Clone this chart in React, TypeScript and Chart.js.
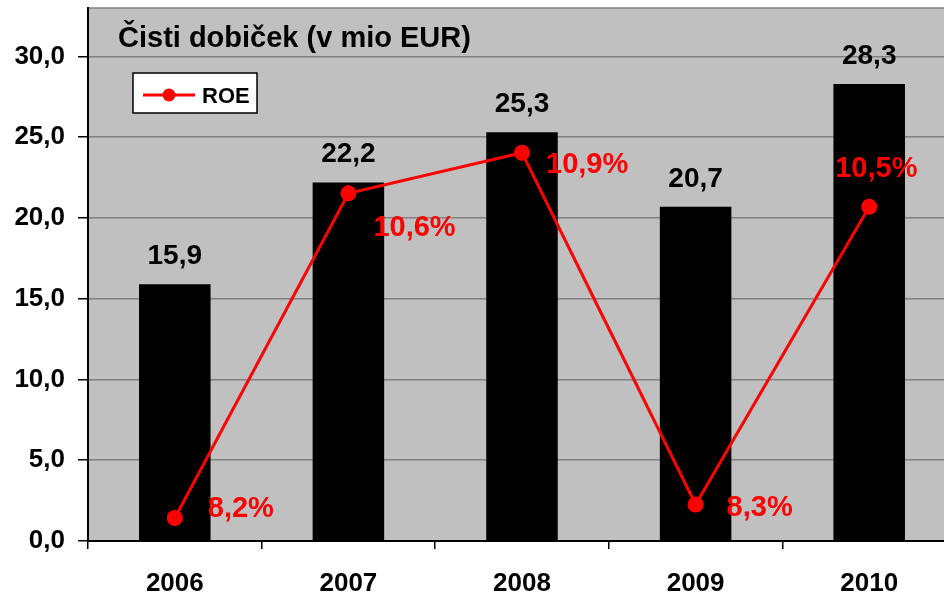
import React, { useEffect, useRef } from "react";
import { Chart, registerables } from "chart.js";

Chart.register(...registerables);

const categories = ["2006", "2007", "2008", "2009", "2010"];
const profitValues = [15.9, 22.2, 25.3, 20.7, 28.3];
const roeValues = [8.2, 10.6, 10.9, 8.3, 10.5];
const yTickValues = [0, 5, 10, 15, 20, 25, 30];
const titleText = "Čisti dobiček (v mio EUR)";
const legendLabel = "ROE";
// label placement offsets relative to each ROE point (left edge, baseline)
const roeLabelOffsets = [
  [33, -1],
  [25, 43],
  [24, 20],
  [31, 12],
  [-34, -30],
];

const FONT = "'Liberation Sans', Arial, sans-serif";
const fmt = (v: number) => v.toFixed(1).replace(".", ",");

const decorPlugin = {
  id: "decor",
  beforeDraw(chart: any) {
    const { ctx, chartArea } = chart;
    ctx.save();
    ctx.fillStyle = "#C0C0C0";
    ctx.fillRect(chartArea.left, chartArea.top, chartArea.right - chartArea.left, chartArea.bottom - chartArea.top);
    ctx.strokeStyle = "#808080";
    ctx.lineWidth = 1.5;
    ctx.beginPath();
    ctx.moveTo(chartArea.left, chartArea.top);
    ctx.lineTo(chartArea.right, chartArea.top);
    ctx.stroke();
    ctx.restore();
  },
  afterDatasetsDraw(chart: any) {
    const { ctx } = chart;
    ctx.save();
    // bar value labels
    const barMeta = chart.getDatasetMeta(1);
    ctx.font = `bold 28px ${FONT}`;
    ctx.fillStyle = "#000";
    ctx.textAlign = "center";
    ctx.textBaseline = "alphabetic";
    barMeta.data.forEach((el: any, i: number) => {
      ctx.fillText(fmt(profitValues[i]), el.x, el.y - 20);
    });
    // ROE labels
    const lineMeta = chart.getDatasetMeta(0);
    ctx.fillStyle = "#FF0000";
    ctx.textAlign = "left";
    ctx.font = `bold 29px ${FONT}`;
    lineMeta.data.forEach((el: any, i: number) => {
      const [dx, dy] = roeLabelOffsets[i];
      ctx.fillText(fmt(roeValues[i]) + "%", el.x + dx, el.y + dy);
    });
    // title
    ctx.fillStyle = "#000";
    ctx.font = `bold 29px ${FONT}`;
    ctx.fillText(titleText, chart.chartArea.left + 30, 47);
    // legend
    const lx = 133, ly = 73, lw = 124, lh = 40;
    ctx.fillStyle = "#FFFFFF";
    ctx.fillRect(lx, ly, lw, lh);
    ctx.strokeStyle = "#000";
    ctx.lineWidth = 1.5;
    ctx.strokeRect(lx, ly, lw, lh);
    ctx.strokeStyle = "#FF0000";
    ctx.lineWidth = 3;
    ctx.beginPath();
    ctx.moveTo(143, 95);
    ctx.lineTo(195, 95);
    ctx.stroke();
    ctx.fillStyle = "#FF0000";
    ctx.beginPath();
    ctx.arc(169, 95, 6.5, 0, Math.PI * 2);
    ctx.fill();
    ctx.fillStyle = "#000";
    ctx.font = `bold 22px ${FONT}`;
    ctx.fillText(legendLabel, 202, 103);
    ctx.restore();
  },
};

export default function App() {
  const ref = useRef<HTMLCanvasElement | null>(null);
  useEffect(() => {
    if (!ref.current) return;
    const chart = new Chart(ref.current, {
      type: "bar",
      data: {
        labels: categories,
        datasets: [
          {
            type: "line",
            label: legendLabel,
            data: roeValues,
            yAxisID: "y2",
            borderColor: "#FF0000",
            backgroundColor: "#FF0000",
            borderWidth: 3,
            pointRadius: 8,
            pointBackgroundColor: "#FF0000",
            pointBorderWidth: 0,
            tension: 0,
            order: 0,
          } as any,
          {
            type: "bar",
            label: "Čisti dobiček",
            data: profitValues,
            yAxisID: "y",
            backgroundColor: "#000000",
            borderWidth: 0,
            barPercentage: 0.412,
            categoryPercentage: 1,
            order: 1,
          },
        ],
      },
      options: {
        responsive: false,
        animation: false,
        layout: { autoPadding: false, padding: { top: 8, left: 0, right: 0, bottom: 0 } },
        plugins: { legend: { display: false }, tooltip: { enabled: false }, title: { display: false } },
        scales: {
          x: {
            offset: true,
            grid: { offset: true, drawOnChartArea: false, tickLength: 8, tickColor: "#000", lineWidth: 1.5 },
            border: { color: "#000", width: 2 },
            ticks: { color: "#000", font: { family: FONT, size: 26, weight: "bold" }, padding: 19 },
            afterFit: (s: any) => {
              s.height = 54;
              s.paddingLeft = 0;
              s.paddingRight = 0;
            },
          },
          y: {
            min: 0,
            max: 33,
            position: "left",
            afterBuildTicks: (s: any) => { s.ticks = yTickValues.map((v) => ({ value: v })); },
            grid: { color: "#808080", lineWidth: 1.5, tickLength: 10, tickColor: "#000" },
            border: { color: "#000", width: 2 },
            ticks: {
              color: "#000",
              font: { family: FONT, size: 26, weight: "bold" },
              padding: 13,
              callback: (v: any) => fmt(Number(v)),
            },
            afterFit: (s: any) => {
              s.width = 88;
              s.paddingTop = 0;
              s.paddingBottom = 0;
            },
          },
          y2: {
            display: false,
            min: 8.03,
            max: 11.97,
          },
        },
      },
      plugins: [decorPlugin],
    });
    return () => chart.destroy();
  }, []);
  return (
    <div style={{ position: "fixed", left: 0, top: 0, width: 944, height: 595, background: "#fff", overflow: "hidden" }}>
      <canvas ref={ref} width={956} height={595} style={{ display: "block" }} />
    </div>
  );
}
